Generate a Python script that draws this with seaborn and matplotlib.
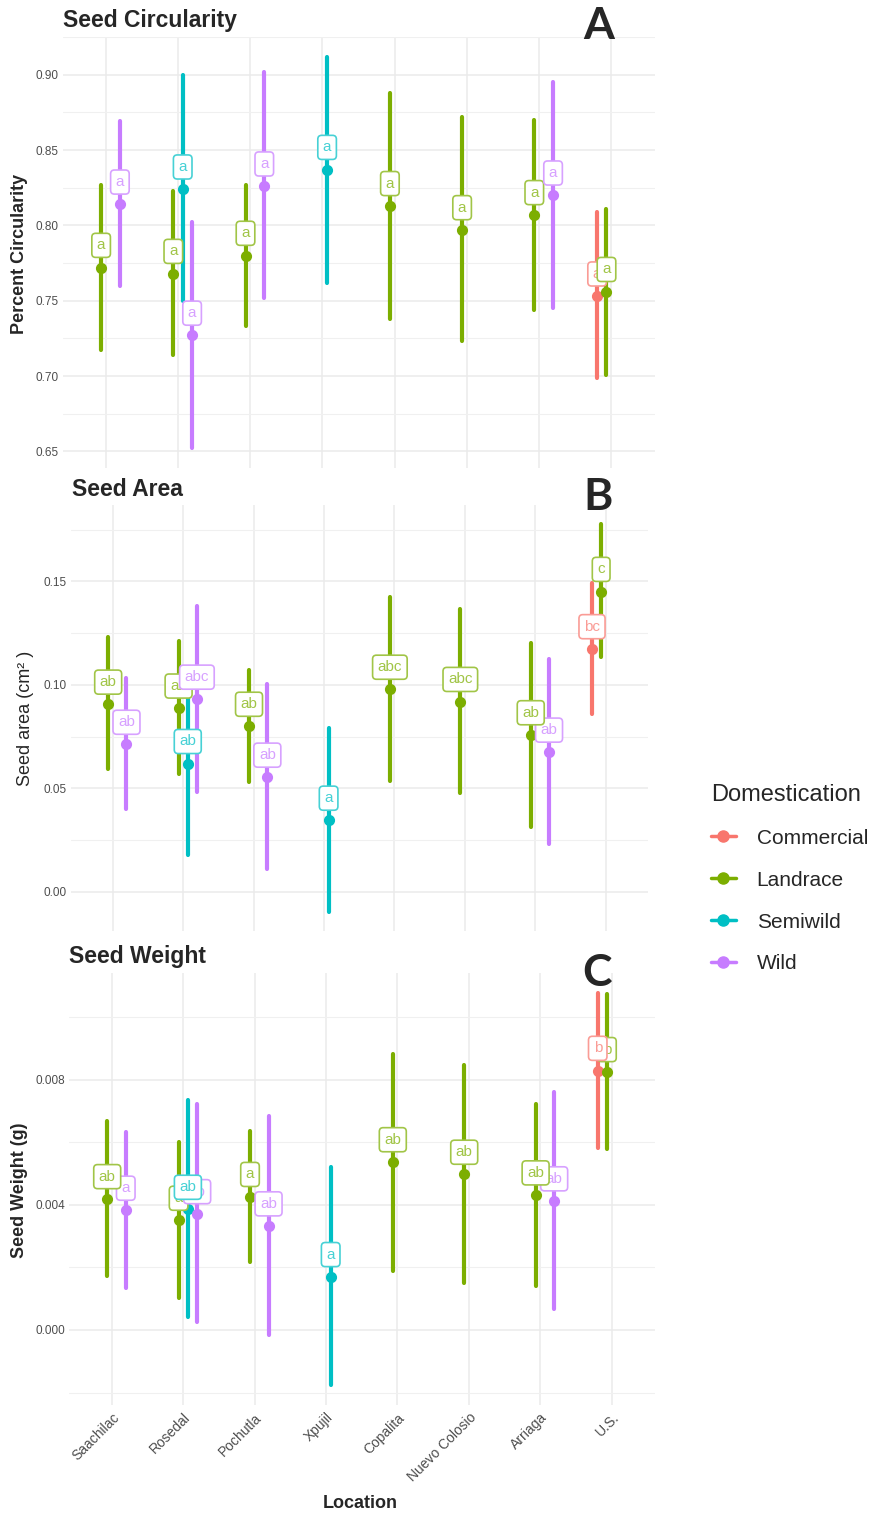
import numpy as np
import pandas as pd
import matplotlib
matplotlib.use("Agg")
import matplotlib.pyplot as plt
from matplotlib.colors import to_rgb
from matplotlib.lines import Line2D
from matplotlib.ticker import MultipleLocator, FormatStrFormatter
import seaborn as sns

# ---------------- data ----------------
locations = ["Saachilac", "Rosedal", "Pochutla", "Xpujil", "Copalita",
             "Nuevo Colosio", "Arriaga", "U.S."]
domestication = ["Commercial", "Landrace", "Semiwild", "Wild"]
palette = ["#F8766D", "#7CAE00", "#00BFC4", "#C77CFF"]

row_location = ["Saachilac", "Saachilac", "Rosedal", "Rosedal", "Rosedal",
                "Pochutla", "Pochutla", "Xpujil", "Copalita", "Nuevo Colosio",
                "Arriaga", "Arriaga", "U.S.", "U.S."]
row_group = ["Landrace", "Wild", "Landrace", "Semiwild", "Wild",
             "Landrace", "Wild", "Semiwild", "Landrace", "Landrace",
             "Landrace", "Wild", "Commercial", "Landrace"]

circ_mean = [0.772, 0.814, 0.768, 0.824, 0.727, 0.780, 0.826, 0.837, 0.813,
             0.797, 0.807, 0.820, 0.753, 0.756]
circ_lower = [0.717, 0.760, 0.714, 0.750, 0.652, 0.733, 0.752, 0.762, 0.738,
              0.723, 0.744, 0.745, 0.699, 0.701]
circ_upper = [0.827, 0.869, 0.823, 0.900, 0.802, 0.827, 0.902, 0.912, 0.888,
              0.872, 0.870, 0.895, 0.809, 0.811]
circ_letters = ["a"] * 14

area_mean = [0.0906, 0.0712, 0.0887, 0.0619, 0.0930, 0.0799, 0.0553, 0.0345,
             0.0978, 0.0919, 0.0758, 0.0674, 0.1174, 0.1451]
area_lower = [0.0593, 0.0398, 0.0569, 0.0176, 0.0481, 0.0529, 0.0112, -0.0096,
              0.0534, 0.0478, 0.0313, 0.0232, 0.0858, 0.1134]
area_upper = [0.1230, 0.1035, 0.1211, 0.1062, 0.1380, 0.1070, 0.1002, 0.0794,
              0.1427, 0.1367, 0.1203, 0.1123, 0.1492, 0.1776]
area_letters = ["ab", "ab", "ab", "ab", "abc", "ab", "ab", "a", "abc", "abc",
                "ab", "ab", "bc", "c"]

weight_mean = [0.00419, 0.00382, 0.00350, 0.00385, 0.00371, 0.00426, 0.00332,
               0.00170, 0.00537, 0.00497, 0.00431, 0.00412, 0.00829, 0.00825]
weight_lower = [0.00172, 0.00133, 0.00103, 0.00042, 0.00026, 0.00218, -0.00016,
                -0.00177, 0.00188, 0.00151, 0.00140, 0.00066, 0.00580, 0.00577]
weight_upper = [0.00669, 0.00633, 0.00602, 0.00736, 0.00722, 0.00635, 0.00683,
                0.00521, 0.00883, 0.00846, 0.00723, 0.00761, 0.01078, 0.01073]
weight_letters = ["ab", "a", "a", "ab", "ab", "a", "ab", "a", "ab", "ab",
                  "ab", "ab", "b", "b"]

# ---------------- style ----------------
sns.set_style("whitegrid", {"grid.color": "#EBEBEB", "axes.edgecolor": "white"})
plt.rcParams["font.family"] = ["Liberation Sans", "DejaVu Sans"]

W, H = 893, 1518
fig = plt.figure(figsize=(W / 100, H / 100), dpi=100)
DODGE = 0.39


def px_rect(x0, x1, y0, y1):
    return [x0 / W, 1 - y1 / H, (x1 - x0) / W, (y1 - y0) / H]


def light(c, a=0.72):
    r, g, b = to_rgb(c)
    return (r * a + 1 - a, g * a + 1 - a, b * a + 1 - a)


def panel(rect, mean, lower, upper, letters, major, minor, fmt, show_x):
    ax = fig.add_axes(px_rect(*rect))
    long = pd.DataFrame({
        "Location": np.repeat(row_location, 3),
        "Domestication": np.repeat(row_group, 3),
        "value": np.column_stack([lower, mean, upper]).ravel(),
    })
    sns.pointplot(data=long, x="Location", y="value", hue="Domestication",
                  order=locations, hue_order=domestication, palette=palette,
                  estimator="median", errorbar=lambda v: (v.min(), v.max()),
                  dodge=DODGE, linestyle="none", markersize=6,
                  err_kws={"linewidth": 3.0}, legend=False, ax=ax)
    # letters
    order = np.argsort(mean)
    rank = np.empty(len(mean), int)
    rank[order] = np.arange(len(mean))
    for i in range(len(mean)):
        hi = domestication.index(row_group[i])
        xi = locations.index(row_location[i]) - DODGE / 2 + hi * DODGE / 3
        col = light(palette[hi])
        ax.annotate(letters[i], xy=(xi, mean[i]), xytext=(0, 16),
                    textcoords="offset points", ha="center", va="center",
                    fontsize=11, color=col, zorder=5 + rank[i],
                    bbox=dict(boxstyle="round,pad=0.33,rounding_size=0.25",
                              fc="white", ec=col, lw=1.2))
    lo, hi_ = min(lower), max(upper)
    r = hi_ - lo
    ax.set_ylim(lo - 0.05 * r, hi_ + 0.05 * r)
    ax.set_xlim(-0.6, 7.6)
    ax.yaxis.set_major_locator(MultipleLocator(major))
    ax.yaxis.set_minor_locator(MultipleLocator(minor))
    ax.yaxis.set_major_formatter(FormatStrFormatter(fmt))
    ax.grid(True, which="major", color="#EBEBEB", lw=1.1)
    ax.grid(True, which="minor", axis="y", color="#F0F0F0", lw=0.8)
    ax.set_axisbelow(True)
    for s in ax.spines.values():
        s.set_visible(False)
    ax.tick_params(axis="both", which="both", length=0)
    ax.tick_params(axis="y", labelsize=8.5, labelcolor="#4D4D4D", pad=3)
    ax.set_xlabel("")
    ax.set_ylabel("")
    if show_x:
        ax.tick_params(axis="x", labelsize=10, labelcolor="#4D4D4D", pad=4)
        for lab in ax.get_xticklabels():
            lab.set_rotation(45)
            lab.set_ha("right")
            lab.set_va("top")
            lab.set_rotation_mode("anchor")
    else:
        ax.set_xticklabels([])
    return ax


panel((62.5, 654.5, 37, 468), circ_mean, circ_lower, circ_upper, circ_letters,
      0.05, 0.025, "%.2f", False)
panel((70.5, 648, 505, 931), area_mean, area_lower, area_upper, area_letters,
      0.05, 0.025, "%.2f", False)
panel((69, 654.5, 973, 1405), weight_mean, weight_lower, weight_upper,
      weight_letters, 0.004, 0.002, "%.3f", True)


def ftext(x, y, s, **kw):
    fig.text(x / W, 1 - y / H, s, **kw)


# titles
ftext(63, 21, "Seed Circularity", fontsize=16.5, fontweight="bold", ha="left", va="center")
ftext(72, 489, "Seed Area", fontsize=16.5, fontweight="bold", ha="left", va="center")
ftext(69, 957, "Seed Weight", fontsize=16.5, fontweight="bold", ha="left", va="center")
# panel letters
for s, x, y in [("A", 599, 26), ("B", 598, 497), ("C", 597, 973)]:
    ftext(x, y, s, fontsize=32, fontweight="bold", family=["Lato", "DejaVu Sans"],
          ha="center", va="center")
# y labels
ftext(20, 254, "Percent Circularity", fontsize=13, fontweight="bold", rotation=90,
      ha="center", va="center")
ftext(26, 718, "Seed area (cm² )", fontsize=13, rotation=90, ha="center", va="center")
ftext(20, 1190, "Seed Weight (g)", fontsize=13, fontweight="bold", rotation=90,
      ha="center", va="center")
ftext(360, 1504, "Location", fontsize=13, fontweight="bold", ha="center", va="center")

# legend
handles = [Line2D([0], [0], color=c, marker="o", markersize=8, linewidth=2.5)
           for c in palette]
fig.legend(handles, domestication, title="Domestication", loc="upper left",
           bbox_to_anchor=(692 / W, 1 - 765 / H), frameon=False, fontsize=15,
           title_fontsize=17, alignment="left", handlelength=1.2,
           handletextpad=1.0, labelspacing=1.1)

fig.savefig("out.png", dpi=100, facecolor="white")
